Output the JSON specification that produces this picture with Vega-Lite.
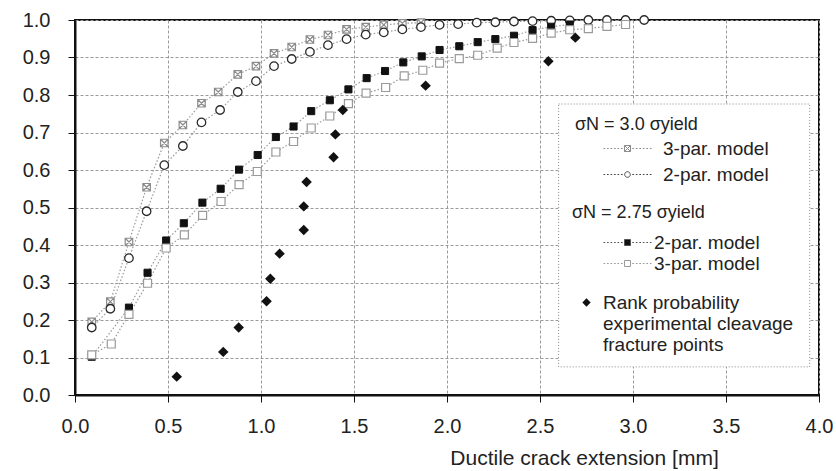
{
  "$schema": "https://vega.github.io/schema/vega-lite/v6.json",
  "width": 744,
  "height": 375,
  "autosize": {"type": "none"},
  "padding": {"left": 75, "top": 20, "right": 17, "bottom": 76},
  "background": "white",
  "config": {
    "font": "Liberation Sans",
    "view": {"stroke": "#111111", "strokeWidth": 2},
    "legend": {
      "titleFontWeight": "normal",
      "titleColor": "#222222",
      "labelColor": "#222222",
      "labelFontSize": 19,
      "titleFontSize": 18,
      "labelLimit": 400,
      "padding": 0
    }
  },
  "datasets": {
    "curves": [
      {"s": "3.0", "m": "3-par. model", "x": 0.09, "y": 0.195},
      {"s": "3.0", "m": "3-par. model", "x": 0.19, "y": 0.249},
      {"s": "3.0", "m": "3-par. model", "x": 0.29, "y": 0.408},
      {"s": "3.0", "m": "3-par. model", "x": 0.385, "y": 0.554},
      {"s": "3.0", "m": "3-par. model", "x": 0.48, "y": 0.672},
      {"s": "3.0", "m": "3-par. model", "x": 0.58, "y": 0.72},
      {"s": "3.0", "m": "3-par. model", "x": 0.68, "y": 0.778},
      {"s": "3.0", "m": "3-par. model", "x": 0.77, "y": 0.808},
      {"s": "3.0", "m": "3-par. model", "x": 0.875, "y": 0.855},
      {"s": "3.0", "m": "3-par. model", "x": 0.973, "y": 0.877},
      {"s": "3.0", "m": "3-par. model", "x": 1.07, "y": 0.911},
      {"s": "3.0", "m": "3-par. model", "x": 1.165, "y": 0.928},
      {"s": "3.0", "m": "3-par. model", "x": 1.263, "y": 0.948},
      {"s": "3.0", "m": "3-par. model", "x": 1.36, "y": 0.96},
      {"s": "3.0", "m": "3-par. model", "x": 1.46, "y": 0.975},
      {"s": "3.0", "m": "3-par. model", "x": 1.563, "y": 0.981},
      {"s": "3.0", "m": "3-par. model", "x": 1.66, "y": 0.987},
      {"s": "3.0", "m": "3-par. model", "x": 1.76, "y": 0.991},
      {"s": "3.0", "m": "3-par. model", "x": 1.86, "y": 0.993},
      {"s": "3.0", "m": "2-par. model", "x": 0.09, "y": 0.18},
      {"s": "3.0", "m": "2-par. model", "x": 0.19, "y": 0.23},
      {"s": "3.0", "m": "2-par. model", "x": 0.29, "y": 0.365},
      {"s": "3.0", "m": "2-par. model", "x": 0.385, "y": 0.49},
      {"s": "3.0", "m": "2-par. model", "x": 0.48, "y": 0.613},
      {"s": "3.0", "m": "2-par. model", "x": 0.58, "y": 0.664},
      {"s": "3.0", "m": "2-par. model", "x": 0.68, "y": 0.727},
      {"s": "3.0", "m": "2-par. model", "x": 0.78, "y": 0.76},
      {"s": "3.0", "m": "2-par. model", "x": 0.875, "y": 0.808},
      {"s": "3.0", "m": "2-par. model", "x": 0.973, "y": 0.837},
      {"s": "3.0", "m": "2-par. model", "x": 1.07, "y": 0.877},
      {"s": "3.0", "m": "2-par. model", "x": 1.165, "y": 0.896},
      {"s": "3.0", "m": "2-par. model", "x": 1.263, "y": 0.915},
      {"s": "3.0", "m": "2-par. model", "x": 1.36, "y": 0.933},
      {"s": "3.0", "m": "2-par. model", "x": 1.46, "y": 0.949},
      {"s": "3.0", "m": "2-par. model", "x": 1.563, "y": 0.961},
      {"s": "3.0", "m": "2-par. model", "x": 1.66, "y": 0.967},
      {"s": "3.0", "m": "2-par. model", "x": 1.76, "y": 0.975},
      {"s": "3.0", "m": "2-par. model", "x": 1.86, "y": 0.981},
      {"s": "3.0", "m": "2-par. model", "x": 1.96, "y": 0.987},
      {"s": "3.0", "m": "2-par. model", "x": 2.06, "y": 0.989},
      {"s": "3.0", "m": "2-par. model", "x": 2.16, "y": 0.993},
      {"s": "3.0", "m": "2-par. model", "x": 2.26, "y": 0.994},
      {"s": "3.0", "m": "2-par. model", "x": 2.36, "y": 0.996},
      {"s": "3.0", "m": "2-par. model", "x": 2.46, "y": 0.997},
      {"s": "3.0", "m": "2-par. model", "x": 2.56, "y": 0.998},
      {"s": "3.0", "m": "2-par. model", "x": 2.66, "y": 0.999},
      {"s": "3.0", "m": "2-par. model", "x": 2.76, "y": 1.0},
      {"s": "3.0", "m": "2-par. model", "x": 2.86, "y": 1.0},
      {"s": "3.0", "m": "2-par. model", "x": 2.96, "y": 1.0},
      {"s": "3.0", "m": "2-par. model", "x": 3.06, "y": 1.0},
      {"s": "2.75", "m": "2-par. model", "x": 0.09, "y": 0.102},
      {"s": "2.75", "m": "2-par. model", "x": 0.29, "y": 0.233},
      {"s": "2.75", "m": "2-par. model", "x": 0.39, "y": 0.326},
      {"s": "2.75", "m": "2-par. model", "x": 0.49, "y": 0.412},
      {"s": "2.75", "m": "2-par. model", "x": 0.585, "y": 0.458},
      {"s": "2.75", "m": "2-par. model", "x": 0.685, "y": 0.513},
      {"s": "2.75", "m": "2-par. model", "x": 0.783, "y": 0.55},
      {"s": "2.75", "m": "2-par. model", "x": 0.882, "y": 0.601},
      {"s": "2.75", "m": "2-par. model", "x": 0.982, "y": 0.64},
      {"s": "2.75", "m": "2-par. model", "x": 1.08, "y": 0.688},
      {"s": "2.75", "m": "2-par. model", "x": 1.175, "y": 0.716},
      {"s": "2.75", "m": "2-par. model", "x": 1.27, "y": 0.757},
      {"s": "2.75", "m": "2-par. model", "x": 1.37, "y": 0.786},
      {"s": "2.75", "m": "2-par. model", "x": 1.47, "y": 0.815},
      {"s": "2.75", "m": "2-par. model", "x": 1.568, "y": 0.845},
      {"s": "2.75", "m": "2-par. model", "x": 1.667, "y": 0.864},
      {"s": "2.75", "m": "2-par. model", "x": 1.765, "y": 0.887},
      {"s": "2.75", "m": "2-par. model", "x": 1.864, "y": 0.903},
      {"s": "2.75", "m": "2-par. model", "x": 1.96, "y": 0.92},
      {"s": "2.75", "m": "2-par. model", "x": 2.066, "y": 0.93},
      {"s": "2.75", "m": "2-par. model", "x": 2.165, "y": 0.941},
      {"s": "2.75", "m": "2-par. model", "x": 2.26, "y": 0.949},
      {"s": "2.75", "m": "2-par. model", "x": 2.36, "y": 0.958},
      {"s": "2.75", "m": "2-par. model", "x": 2.46, "y": 0.973},
      {"s": "2.75", "m": "2-par. model", "x": 2.56, "y": 0.982},
      {"s": "2.75", "m": "2-par. model", "x": 2.66, "y": 0.988},
      {"s": "2.75", "m": "3-par. model", "x": 0.09, "y": 0.107},
      {"s": "2.75", "m": "3-par. model", "x": 0.195, "y": 0.136},
      {"s": "2.75", "m": "3-par. model", "x": 0.29, "y": 0.215},
      {"s": "2.75", "m": "3-par. model", "x": 0.39, "y": 0.298},
      {"s": "2.75", "m": "3-par. model", "x": 0.49, "y": 0.392},
      {"s": "2.75", "m": "3-par. model", "x": 0.588, "y": 0.427},
      {"s": "2.75", "m": "3-par. model", "x": 0.686, "y": 0.479},
      {"s": "2.75", "m": "3-par. model", "x": 0.785, "y": 0.516},
      {"s": "2.75", "m": "3-par. model", "x": 0.882, "y": 0.561},
      {"s": "2.75", "m": "3-par. model", "x": 0.98, "y": 0.596},
      {"s": "2.75", "m": "3-par. model", "x": 1.08, "y": 0.648},
      {"s": "2.75", "m": "3-par. model", "x": 1.175, "y": 0.676},
      {"s": "2.75", "m": "3-par. model", "x": 1.27, "y": 0.712},
      {"s": "2.75", "m": "3-par. model", "x": 1.37, "y": 0.744},
      {"s": "2.75", "m": "3-par. model", "x": 1.47, "y": 0.777},
      {"s": "2.75", "m": "3-par. model", "x": 1.565, "y": 0.805},
      {"s": "2.75", "m": "3-par. model", "x": 1.67, "y": 0.82},
      {"s": "2.75", "m": "3-par. model", "x": 1.77, "y": 0.851},
      {"s": "2.75", "m": "3-par. model", "x": 1.87, "y": 0.866},
      {"s": "2.75", "m": "3-par. model", "x": 1.96, "y": 0.885},
      {"s": "2.75", "m": "3-par. model", "x": 2.066, "y": 0.897},
      {"s": "2.75", "m": "3-par. model", "x": 2.165, "y": 0.906},
      {"s": "2.75", "m": "3-par. model", "x": 2.27, "y": 0.925},
      {"s": "2.75", "m": "3-par. model", "x": 2.36, "y": 0.94},
      {"s": "2.75", "m": "3-par. model", "x": 2.46, "y": 0.951},
      {"s": "2.75", "m": "3-par. model", "x": 2.56, "y": 0.965},
      {"s": "2.75", "m": "3-par. model", "x": 2.66, "y": 0.974},
      {"s": "2.75", "m": "3-par. model", "x": 2.76, "y": 0.977},
      {"s": "2.75", "m": "3-par. model", "x": 2.86, "y": 0.983},
      {"s": "2.75", "m": "3-par. model", "x": 2.96, "y": 0.988}
    ],
    "exp": [
      {"kind": "rank", "x": 0.547, "y": 0.049},
      {"kind": "rank", "x": 0.797, "y": 0.115},
      {"kind": "rank", "x": 0.88, "y": 0.18},
      {"kind": "rank", "x": 1.03, "y": 0.25},
      {"kind": "rank", "x": 1.05, "y": 0.31},
      {"kind": "rank", "x": 1.1, "y": 0.377},
      {"kind": "rank", "x": 1.23, "y": 0.44},
      {"kind": "rank", "x": 1.23, "y": 0.503},
      {"kind": "rank", "x": 1.245, "y": 0.568},
      {"kind": "rank", "x": 1.39, "y": 0.634},
      {"kind": "rank", "x": 1.4, "y": 0.695},
      {"kind": "rank", "x": 1.44, "y": 0.76},
      {"kind": "rank", "x": 1.885, "y": 0.825},
      {"kind": "rank", "x": 2.545, "y": 0.89},
      {"kind": "rank", "x": 2.69, "y": 0.953}
    ]
  },
  "layer": [
    {
      "data": {"name": "curves"},
      "mark": {"type": "line", "color": "#9a9a9a", "strokeWidth": 1.2, "strokeDash": [1.5, 2]},
      "encoding": {
        "x": {
          "field": "x",
          "type": "quantitative",
          "scale": {"domain": [0, 4], "nice": false, "zero": false},
          "axis": {
            "title": "Ductile crack extension [mm]",
            "values": [0, 0.5, 1, 1.5, 2, 2.5, 3, 3.5, 4],
            "format": ".1f",
            "labelFlush": false,
            "labelFontSize": 20,
            "labelColor": "#222222",
            "labelPadding": 14,
            "tickColor": "#111111",
            "tickSize": 7,
            "domainColor": "#111111",
            "domainWidth": 2,
            "grid": true,
            "gridColor": "#9a9a9a",
            "gridDash": [3, 2],
            "gridWidth": 1,
            "titleFontSize": 21,
            "titleFontWeight": "normal",
            "titleColor": "#222222",
            "titleX": 509,
            "titleY": 52,
            "titleAlign": "center",
            "titleBaseline": "top"
          }
        },
        "y": {
          "field": "y",
          "type": "quantitative",
          "scale": {"domain": [0, 1], "nice": false},
          "axis": {
            "title": null,
            "values": [0, 0.1, 0.2, 0.3, 0.4, 0.5, 0.6, 0.7, 0.8, 0.9, 1],
            "tickCount": 11,
            "labelOverlap": false,
            "format": ".1f",
            "labelFontSize": 20,
            "labelColor": "#222222",
            "labelPadding": 18,
            "tickColor": "#111111",
            "tickSize": 7,
            "domainColor": "#111111",
            "domainWidth": 2,
            "grid": true,
            "gridColor": "#9a9a9a",
            "gridDash": [3, 2],
            "gridWidth": 1
          }
        },
        "detail": [{"field": "s"}, {"field": "m"}]
      }
    },
    {
      "data": {"values": [{"box": 1}]},
      "mark": {"type": "rect", "fill": "white", "stroke": "#8a8a8a", "strokeWidth": 1, "strokeDash": [1, 2]},
      "encoding": {
        "x": {"datum": 2.6, "type": "quantitative"},
        "x2": {"datum": 3.95},
        "y": {
          "datum": 0.075,
          "type": "quantitative",
          "axis": {
            "title": null,
            "values": [0, 0.1, 0.2, 0.3, 0.4, 0.5, 0.6, 0.7, 0.8, 0.9, 1],
            "tickCount": 11,
            "labelOverlap": false,
            "format": ".1f",
            "labelFontSize": 20,
            "labelColor": "#222222",
            "labelPadding": 18,
            "tickColor": "#111111",
            "tickSize": 7,
            "domainColor": "#111111",
            "domainWidth": 2,
            "grid": true,
            "gridColor": "#9a9a9a",
            "gridDash": [3, 2],
            "gridWidth": 1
          }
        },
        "y2": {"datum": 0.776}
      }
    },
    {
      "data": {"name": "curves"},
      "transform": [{"filter": "datum.s === '3.0' && datum.m === '3-par. model'"}],
      "mark": {"type": "point", "shape": "M-1,-1H1V1H-1ZM-1,-1L1,1M1,-1L-1,1", "filled": false, "fill": "white", "stroke": "#8c8c8c", "strokeWidth": 1.2, "size": 56, "opacity": 1},
      "encoding": {
        "x": {"field": "x", "type": "quantitative"},
        "y": {"field": "y", "type": "quantitative"}
      }
    },
    {
      "data": {"name": "curves"},
      "transform": [{"filter": "datum.s === '3.0' && datum.m === '2-par. model'"}],
      "mark": {"type": "point", "shape": "circle", "filled": false, "fill": "white", "stroke": "#2a2a2a", "strokeWidth": 1.3, "size": 72, "opacity": 1},
      "encoding": {
        "x": {"field": "x", "type": "quantitative"},
        "y": {"field": "y", "type": "quantitative"}
      }
    },
    {
      "data": {"name": "curves"},
      "transform": [{"filter": "datum.s === '2.75' && datum.m === '2-par. model'"}],
      "mark": {"type": "point", "shape": "square", "filled": true, "fill": "#111111", "stroke": "#111111", "strokeWidth": 1, "size": 50, "opacity": 1},
      "encoding": {
        "x": {"field": "x", "type": "quantitative"},
        "y": {"field": "y", "type": "quantitative"}
      }
    },
    {
      "data": {"name": "curves"},
      "transform": [{"filter": "datum.s === '2.75' && datum.m === '3-par. model'"}],
      "mark": {"type": "point", "shape": "square", "filled": false, "fill": "white", "stroke": "#9a9a9a", "strokeWidth": 1.2, "size": 64, "opacity": 1},
      "encoding": {
        "x": {"field": "x", "type": "quantitative"},
        "y": {"field": "y", "type": "quantitative"}
      }
    },
    {
      "data": {"name": "curves"},
      "transform": [{"filter": "datum.s === '3.0' && datum.x < 0"}],
      "mark": {"type": "point", "filled": true, "opacity": 1},
      "encoding": {
        "x": {"field": "x", "type": "quantitative"},
        "y": {"field": "y", "type": "quantitative"},
        "shape": {
          "field": "m",
          "type": "nominal",
          "scale": {"domain": ["3-par. model", "2-par. model"], "range": [
            "M-2.4,0h0.17M-2.05,0h0.17M-1.7,0h0.17M-1.35,0h0.17M-1,0h0.17M-0.65,0h0.17M0.48,0h0.17M0.83,0h0.17M1.18,0h0.17M1.53,0h0.17M1.88,0h0.17M2.23,0h0.17M-0.3,-0.3H0.3V0.3H-0.3ZM-0.3,-0.3L0.3,0.3M0.3,-0.3L-0.3,0.3",
            "M-2.4,0h0.17M-2.05,0h0.17M-1.7,0h0.17M-1.35,0h0.17M-1,0h0.17M-0.65,0h0.17M0.48,0h0.17M0.83,0h0.17M1.18,0h0.17M1.53,0h0.17M1.88,0h0.17M2.23,0h0.17M0.28,0A0.28,0.28,0,1,1,-0.28,0A0.28,0.28,0,1,1,0.28,0Z"
          ]},
          "legend": {
            "orient": "none",
            "legendX": 496,
            "legendY": 92,
            "padding": 4,
            "fillColor": "white",
            "title": "σN = 3.0 σyield",
            "titlePadding": 4,
            "rowPadding": 5,
            "symbolSize": 400,
            "symbolStrokeWidth": 1,
            "symbolOpacity": 1,
            "symbolOffset": 42,
            "labelOffset": 25
          }
        },
        "fill": {
          "field": "m",
          "type": "nominal",
          "scale": {"domain": ["3-par. model", "2-par. model"], "range": ["#ffffff", "#ffffff"]}
        },
        "stroke": {
          "field": "m",
          "type": "nominal",
          "scale": {"domain": ["3-par. model", "2-par. model"], "range": ["#8c8c8c", "#444444"]}
        }
      }
    },
    {
      "data": {"name": "curves"},
      "transform": [{"filter": "datum.s === '2.75' && datum.x < 0"}],
      "mark": {"type": "point", "filled": true, "opacity": 1},
      "encoding": {
        "x": {"field": "x", "type": "quantitative"},
        "y": {"field": "y", "type": "quantitative"},
        "shape": {
          "field": "m",
          "type": "nominal",
          "scale": {"domain": ["2-par. model", "3-par. model"], "range": [
            "M-2.4,0h0.17M-2.05,0h0.17M-1.7,0h0.17M-1.35,0h0.17M-1,0h0.17M-0.65,0h0.17M0.48,0h0.17M0.83,0h0.17M1.18,0h0.17M1.53,0h0.17M1.88,0h0.17M2.23,0h0.17M-0.3,-0.3H0.3V0.3H-0.3Z",
            "M-2.4,0h0.17M-2.05,0h0.17M-1.7,0h0.17M-1.35,0h0.17M-1,0h0.17M-0.65,0h0.17M0.48,0h0.17M0.83,0h0.17M1.18,0h0.17M1.53,0h0.17M1.88,0h0.17M2.23,0h0.17M-0.3,-0.3H0.3V0.3H-0.3Z"
          ]},
          "legend": {
            "orient": "none",
            "legendX": 493,
            "legendY": 180,
            "padding": 4,
            "fillColor": "white",
            "title": "σN = 2.75 σyield",
            "titlePadding": 10,
            "rowPadding": 0,
            "symbolSize": 400,
            "symbolStrokeWidth": 1,
            "symbolOpacity": 1,
            "symbolOffset": 45,
            "labelOffset": 16
          }
        },
        "fill": {
          "field": "m",
          "type": "nominal",
          "scale": {"domain": ["2-par. model", "3-par. model"], "range": ["#111111", "#ffffff"]}
        },
        "stroke": {
          "field": "m",
          "type": "nominal",
          "scale": {"domain": ["2-par. model", "3-par. model"], "range": ["#555555", "#9a9a9a"]}
        }
      }
    },
    {
      "data": {"name": "exp"},
      "mark": {"type": "point", "filled": true, "color": "#111111", "size": 110, "opacity": 1},
      "encoding": {
        "x": {"field": "x", "type": "quantitative"},
        "y": {"field": "y", "type": "quantitative"},
        "shape": {
          "field": "kind",
          "type": "nominal",
          "scale": {"domain": ["rank"], "range": ["diamond"]},
          "legend": {
            "orient": "none",
            "legendX": 496,
            "legendY": 269,
            "padding": 4,
            "fillColor": "white",
            "title": null,
            "symbolSize": 70,
            "symbolOpacity": 1,
            "symbolOffset": 2,
            "labelOffset": 7,
            "labelExpr": "['Rank probability', 'experimental cleavage', 'fracture points']"
          }
        }
      }
    }
  ],
  "resolve": {
    "scale": {"shape": "independent", "fill": "independent", "stroke": "independent"},
    "legend": {"shape": "independent", "fill": "independent", "stroke": "independent"}
  }
}
